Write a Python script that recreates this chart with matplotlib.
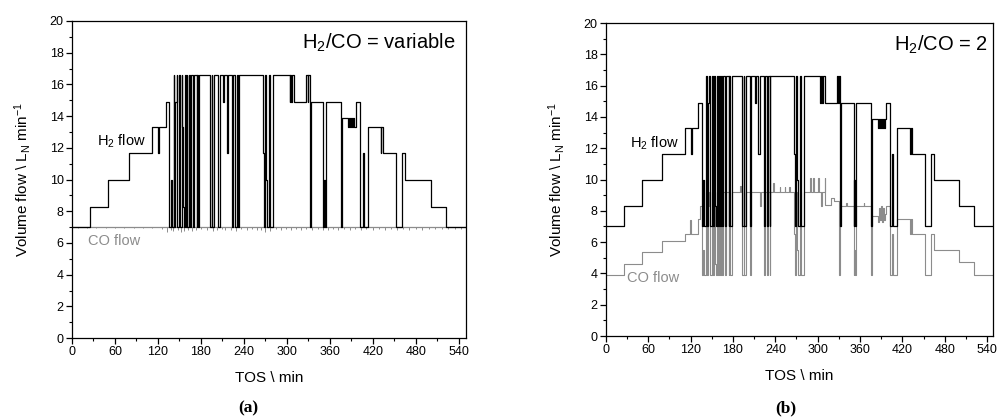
import numpy as np
import matplotlib.pyplot as plt
from matplotlib.ticker import MultipleLocator

plt.rcParams['font.family'] = ['Liberation Sans', 'DejaVu Sans']
plt.rcParams['mathtext.default'] = 'regular'

# H2 flow (step series, value holds from t until next t), same program in (a) and (b)
h2_t = [0, 25, 51, 80, 112, 120, 122, 131, 136, 138, 139, 142, 143, 144, 146, 147, 150, 151,
        153, 154, 155, 156, 158, 159, 160, 161, 163, 165, 166, 169, 170, 174, 175, 176, 178,
        193, 195, 196, 198, 204, 206, 211, 212, 216, 218, 224, 225, 228, 230, 232, 233,
        267, 268, 270, 271, 272, 275, 276, 280, 304, 305, 306, 307, 310, 327, 329, 330,
        332, 333, 351, 352, 353, 354, 376, 377, 386, 387, 388, 390, 391, 393, 394, 396,
        397, 402, 406, 407, 413, 431, 432, 434, 452, 461, 465, 501, 522, 550]
h2_v = [7, 8.3, 10, 11.65, 13.3, 11.65, 13.3, 14.9, 7, 10, 7, 16.6, 7, 14.9, 16.6, 7, 16.6, 7,
        16.6, 13.3, 8.3, 7, 16.6, 7, 16.6, 7, 16.6, 7, 16.6, 7, 16.6, 7, 16.6, 7, 16.6,
        7, 16.6, 7, 16.6, 7, 16.6, 14.9, 16.6, 11.65, 16.6, 7, 16.6, 7, 16.6, 7, 16.6,
        11.65, 7, 16.6, 10, 7, 16.6, 7, 16.6, 14.9, 16.6, 14.9, 16.6, 14.9, 16.6, 14.9, 16.6,
        7, 14.9, 7, 10, 7, 14.9, 7, 13.9, 13.3, 13.9, 13.3, 13.9, 13.3, 13.9, 13.3, 13.9,
        14.9, 7, 11.65, 7, 13.3, 11.65, 13.3, 11.65, 7, 11.65, 10, 8.3, 7, 7]

# CO flow (a): constant with small spikes
co_a_level = 7.0
co_a_spike_t = [8, 21, 34, 47, 60, 73, 86, 99, 112, 125, 133, 138, 141, 148, 152, 157, 162,
                168, 173, 180, 188, 197, 202, 209, 214, 222, 229, 236, 244, 251, 258, 264,
                270, 277, 285, 292, 299, 306, 313, 320, 327, 335, 343, 350, 357, 364, 372,
                380, 388, 395, 403, 411, 420, 428, 437, 445, 454, 462, 471, 480, 489, 498,
                507, 516, 525, 534, 543]
co_a_spike_v = [6.95, 6.93, 6.95, 6.92, 6.94, 6.93, 6.95, 6.92, 6.93, 6.85, 6.7, 6.8, 6.75,
                6.8, 6.7, 6.78, 6.82, 6.75, 6.8, 6.85, 6.82, 6.75, 6.8, 6.85, 6.82, 6.8,
                6.75, 6.85, 6.82, 6.85, 6.82, 6.8, 6.7, 6.78, 6.85, 6.82, 6.85, 6.8, 6.85,
                6.82, 6.85, 6.8, 6.85, 6.8, 6.82, 6.85, 6.8, 6.85, 6.82, 6.85, 6.82, 6.85,
                6.82, 6.85, 6.83, 6.85, 6.82, 6.86, 6.84, 6.86, 6.84, 6.86, 6.85, 6.87,
                6.88, 6.9, 6.9]

# CO flow (b): step series
co_b_t = [0, 25, 51, 80, 112, 119, 121, 131, 133, 136, 138, 139, 142, 143, 144, 146, 147, 150,
          151, 153, 154, 155, 156, 158, 159, 160, 161, 163, 165, 166, 169, 170, 174, 175, 176,
          178, 190, 191, 193, 195, 196, 198, 204, 206, 218, 219, 224, 225, 228, 230, 232, 233,
          237, 238, 246, 247, 253, 254, 260, 261, 267, 268, 270, 271, 272, 275, 276, 280,
          289, 290, 294, 295, 301, 302, 305, 306, 310, 311, 319, 323, 330, 331, 340, 341,
          351, 352, 353, 354, 365, 366, 376, 377, 386, 387, 388, 390, 391, 393, 394, 396,
          397, 402, 406, 407, 413, 431, 432, 434, 452, 461, 465, 501, 522, 550]
co_b_v = [3.9, 4.6, 5.4, 6.1, 6.5, 7.4, 6.5, 7.5, 8.3, 3.9, 5.5, 3.9, 9.2, 3.9, 8.3, 9.2, 3.9, 9.2,
          3.9, 9.2, 7.4, 4.6, 3.9, 9.2, 3.9, 9.2, 3.9, 9.2, 3.9, 9.2, 3.9, 9.2, 3.9, 9.2, 3.9,
          9.2, 9.6, 9.2, 3.9, 9.2, 3.9, 9.2, 3.9, 9.2, 8.3, 9.2, 3.9, 9.2, 3.9, 9.2, 3.9, 9.2,
          9.8, 9.2, 9.5, 9.2, 9.5, 9.2, 9.5, 9.2, 6.5, 3.9, 9.2, 5.5, 3.9, 9.2, 3.9, 9.2,
          10.1, 9.2, 10.1, 9.2, 10.1, 9.2, 8.3, 9.2, 10.1, 8.4, 8.8, 8.6, 3.9, 8.3, 8.5, 8.3,
          3.9, 5.5, 3.9, 8.3, 8.5, 8.3, 3.9, 7.7, 7.3, 8.2, 7.4, 8.3, 7.3, 8.2, 7.4, 7.8,
          8.3, 3.9, 6.5, 3.9, 7.5, 6.5, 7.5, 6.5, 3.9, 6.5, 5.5, 4.7, 3.9, 3.9]

xticks = [0, 60, 120, 180, 240, 300, 360, 420, 480, 540]

fig = plt.figure(figsize=(9.98, 4.19), dpi=100)
ax1 = fig.add_axes([0.0721, 0.193, 0.3948, 0.757])
ax2 = fig.add_axes([0.6072, 0.198, 0.3878, 0.747])

gray = '#8c8c8c'

# (a)
ax1.plot([0, 550], [co_a_level, co_a_level], color=gray, lw=0.9)
ax1.vlines(co_a_spike_t, co_a_spike_v, co_a_level, color=gray, lw=0.7)
ax1.step(h2_t, h2_v, where='post', color='black', lw=0.9)
ax1.set_xlim(0, 550)
ax1.text(535, 18.6, 'H$_2$/CO = variable', ha='right', va='center', fontsize=14.5)
ax1.text(35, 12.4, 'H$_2$ flow', ha='left', va='center', fontsize=10.5)
ax1.text(22, 6.1, 'CO flow', ha='left', va='center', fontsize=10.5, color=gray)

# (b)
ax2.step(co_b_t, co_b_v, where='post', color=gray, lw=0.8)
ax2.step(h2_t, h2_v, where='post', color='black', lw=0.9)
ax2.set_xlim(0, 548.5)
ax2.text(541, 18.6, 'H$_2$/CO = 2', ha='right', va='center', fontsize=14.5)
ax2.text(34, 12.3, 'H$_2$ flow', ha='left', va='center', fontsize=10.5)
ax2.text(30, 3.7, 'CO flow', ha='left', va='center', fontsize=10.5, color=gray)

for ax in (ax1, ax2):
    ax.set_ylim(0, 20)
    ax.set_xticks(xticks)
    ax.xaxis.set_minor_locator(MultipleLocator(30))
    ax.set_yticks(np.arange(0, 21, 2))
    ax.yaxis.set_minor_locator(MultipleLocator(1))
    ax.tick_params(which='major', direction='out', length=4, width=0.9, labelsize=9, pad=2)
    ax.tick_params(which='minor', direction='out', length=2.5, width=0.8)
    for s in ax.spines.values():
        s.set_linewidth(0.9)
    ax.set_xlabel('TOS \\ min', fontsize=11, labelpad=9)
    ax.set_ylabel('Volume flow \\ L$_N$ min$^{-1}$', fontsize=11, labelpad=12)

fig.text(0.249, 0.026, '(a)', ha='center', va='center', fontsize=12.5, fontweight='bold',
         family='Liberation Serif')
fig.text(0.787, 0.026, '(b)', ha='center', va='center', fontsize=12.5, fontweight='bold',
         family='Liberation Serif')

plt.savefig('out.png', dpi=100)
